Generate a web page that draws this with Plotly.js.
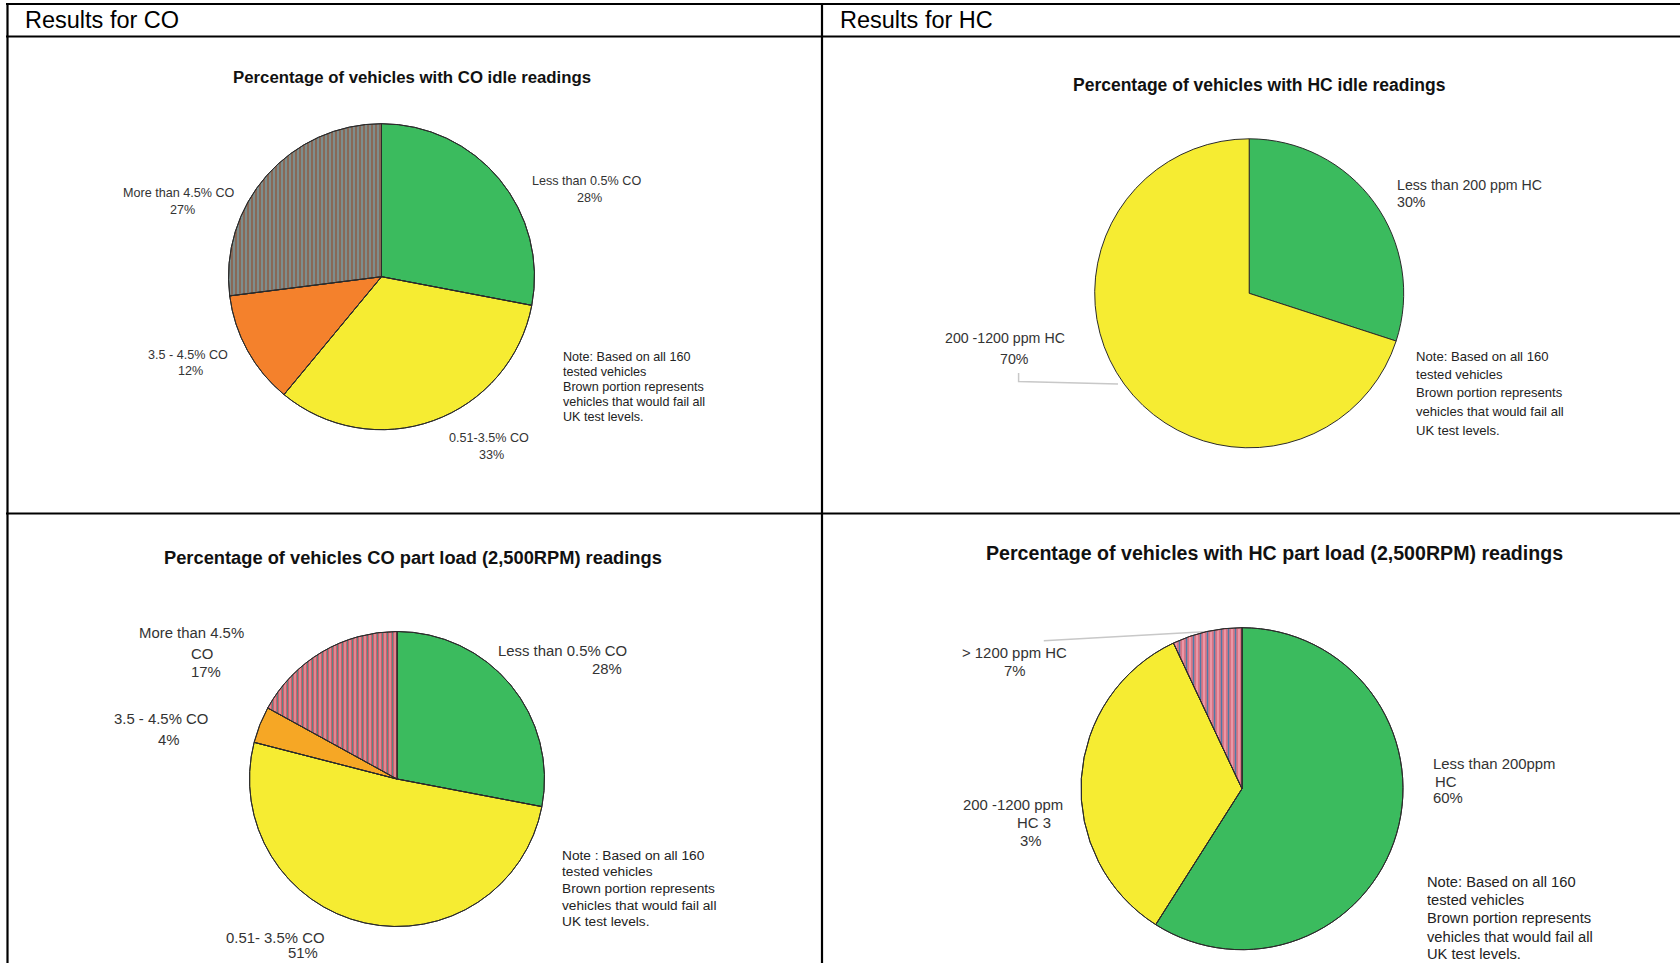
<!DOCTYPE html>
<html>
<head>
<meta charset="utf-8">
<script src="https://cdn.plot.ly/plotly-3.0.1.min.js"></script>
<style>
html,body{margin:0;padding:0;background:#fff;overflow:hidden}
#chart{width:1680px;height:963px}
</style>
</head>
<body>
<div id="chart"></div>
<script>
// ---------------- DATA ----------------
const columnHeaders = ['Results for CO', 'Results for HC'];

const coIdleTitle = 'Percentage of vehicles with CO idle readings';
const coIdleLabels = ['Less than 0.5% CO', '0.51-3.5% CO', '3.5 - 4.5% CO', 'More than 4.5% CO'];
const coIdleValues = [28, 33, 12, 27];

const hcIdleTitle = 'Percentage of vehicles with HC idle readings';
const hcIdleLabels = ['Less than 200 ppm HC', '200 -1200 ppm HC'];
const hcIdleValues = [30, 70];

const coLoadTitle = 'Percentage of vehicles CO part load (2,500RPM) readings';
const coLoadLabels = ['Less than 0.5% CO', '0.51- 3.5% CO', '3.5 - 4.5% CO', 'More than 4.5% CO'];
const coLoadValues = [28, 51, 4, 17];

const hcLoadTitle = 'Percentage of vehicles with HC part load (2,500RPM) readings';
const hcLoadLabels = ['Less than 200ppm HC', '200 -1200 ppm HC 3', '> 1200 ppm HC'];
const hcLoadValues = [59, 34, 7];
const hcLoadValueText = ['60%', '3%', '7%'];

const noteLinesA = ['Note: Based on all 160', 'tested vehicles', 'Brown portion represents', 'vehicles that would fail all', 'UK test levels.'];
const noteLinesB = ['Note : Based on all 160', 'tested vehicles', 'Brown portion represents', 'vehicles that would fail all', 'UK test levels.'];

// ---------------- STYLE / LAYOUT ----------------
const W = 1680, H = 963;
const px = x => x / W;
const py = y => 1 - y / H;
const FONT = 'Liberation Sans, Arial, Helvetica, sans-serif';
const GREEN = '#3bbb5e', YELLOW = '#f6ec32', ORANGE = '#f4812c', AMBER = '#f6a725';
const LABEL_COLOR = '#333333';

const stripeBrown = {bg: '#95705e', fg1: '#7cc0d0', size1: 4, sol1: 0.3, fg2: '#5a4438', size2: 2, sol2: 0.2};
const stripeCO = {bg: '#e48c97', fg1: '#5b8584', size1: 5, sol1: 0.26, fg2: '#c04a54', size2: 2.5, sol2: 0.3};
const stripeHC = {bg: '#ec9aaa', fg1: '#4f7aa6', size1: 7, sol1: 0.26, fg2: '#cc5566', size2: 3.5, sol2: 0.28};

const panels = [
  {labels: coIdleLabels, values: coIdleValues, valueText: coIdleValues.map(v => v + '%'),
   colors: [GREEN, YELLOW, ORANGE, stripeBrown.bg], striped: 3, stripe: stripeBrown,
   cx: 381.5, cy: 276.7, r: 153,
   title: coIdleTitle, titlePos: [412, 77.3], titleSize: 16.8,
   labelSize: 12.6, breaks: [0, 0, 0, 0],
   labelLines: [[[586, 181, 'c'], [589, 198, 'c']],
                [[489, 438, 'c'], [491, 455, 'c']],
                [[188, 355, 'c'], [190, 371, 'c']],
                [[179, 193, 'c'], [182, 210, 'c']]],
   note: noteLinesA, noteX: 561.8, noteY: [356.7, 371.7, 386.7, 401.7, 416.7], noteSize: 12.6},
  {labels: hcIdleLabels, values: hcIdleValues, valueText: hcIdleValues.map(v => v + '%'),
   colors: [GREEN, YELLOW], striped: -1, stripe: null,
   cx: 1249.2, cy: 293.3, r: 154.5,
   title: hcIdleTitle, titlePos: [1259.4, 85], titleSize: 17.5,
   labelSize: 14.2, breaks: [0, 0],
   labelLines: [[[1396, 185, 'l'], [1396, 201.7, 'l']],
                [[1005, 338, 'c'], [1015, 359, 'c']]],
   note: noteLinesA, noteX: 1415, noteY: [356.7, 375, 393, 411.7, 430], noteSize: 13.1},
  {labels: coLoadLabels, values: coLoadValues, valueText: coLoadValues.map(v => v + '%'),
   colors: [GREEN, YELLOW, AMBER, stripeCO.bg], striped: 3, stripe: stripeCO,
   cx: 397, cy: 779, r: 147.5,
   title: coLoadTitle, titlePos: [412.6, 557.7], titleSize: 18.3,
   labelSize: 14.9, breaks: [0, 0, 0, 3],
   labelLines: [[[497, 651, 'l'], [606.5, 669, 'c']],
                [[275.6, 938, 'c'], [303, 952.5, 'c']],
                [[160.5, 719, 'c'], [169, 740, 'c']],
                [[191.5, 633.3, 'c'], [202, 654, 'c'], [206, 672.3, 'c']]],
   note: noteLinesB, noteX: 560.7, noteY: [855.7, 871.7, 888.3, 905, 921.7], noteSize: 13.7},
  {labels: hcLoadLabels, values: hcLoadValues, valueText: hcLoadValueText,
   colors: [GREEN, YELLOW, stripeHC.bg], striped: 2, stripe: stripeHC,
   cx: 1242, cy: 788.7, r: 161,
   title: hcLoadTitle, titlePos: [1274, 553.3], titleSize: 19.6,
   labelSize: 14.9, breaks: [3, 3, 0],
   labelLines: [[[1431.6, 764, 'l'], [1434, 781.7, 'l'], [1431.6, 798.3, 'l']],
                [[1013.4, 805, 'c'], [1034, 823.3, 'c'], [1031, 841, 'c']],
                [[1015, 652.7, 'c'], [1015, 671, 'c']]],
   note: noteLinesA, noteX: 1426, noteY: [881.7, 900, 918.3, 936.7, 953.5], noteSize: 14.7}
];

const headerPos = [[23.5, 20], [839, 20]];
const headerSize = 23.5;

// table rules: [x0, y0, x1, y1]
const tableRules = [
  [6, 4, 1680, 4], [6, 36.5, 1680, 36.5], [6, 513.5, 1680, 513.5],
  [7.5, 3, 7.5, 963], [822, 3, 822, 963]
];
// leader lines (polyline points)
const leaders = [
  [[1018.6, 373], [1018.6, 381.5], [1118, 384]],
  [[1043.8, 640.7], [1204, 631.7]]
];

// ---------------- BUILD ----------------
const traces = [], annotations = [], shapes = [];

function addText(text, x, y, size, anchor, color, weight) {
  annotations.push({
    xref: 'paper', yref: 'paper', x: px(x), y: py(y),
    xanchor: anchor === 'l' ? 'left' : 'center', yanchor: 'middle',
    showarrow: false, text: text, borderpad: 0,
    font: {family: FONT, size: size, color: color, weight: weight || 'normal'}
  });
}
function wrapLabel(label, n) {
  if (!n) return [label];
  const w = label.split(' ');
  return [w.slice(0, n).join(' '), w.slice(n).join(' ')];
}

panels.forEach(p => {
  const dom = {x: [px(p.cx - p.r), px(p.cx + p.r)], y: [py(p.cy + p.r), py(p.cy - p.r)]};
  const base = {
    type: 'pie', labels: p.labels, values: p.values, sort: false, direction: 'clockwise', rotation: 0,
    textinfo: 'none', hoverinfo: 'label+percent', showlegend: false, domain: dom,
    marker: {colors: p.colors, line: {color: '#2b2b2b', width: 1}}
  };
  if (p.stripe) {
    base.marker.pattern = {
      shape: p.colors.map((c, i) => i === p.striped ? '|' : ''),
      fgcolor: p.colors.map((c, i) => i === p.striped ? p.stripe.fg1 : c),
      bgcolor: p.colors.map((c, i) => i === p.striped ? p.stripe.bg : c),
      size: p.stripe.size1, solidity: p.stripe.sol1, fillmode: 'replace'
    };
  }
  traces.push(base);
  if (p.stripe && p.stripe.fg2) {
    traces.push({
      type: 'pie', labels: p.labels, values: p.values, sort: false, direction: 'clockwise', rotation: 0,
      textinfo: 'none', hoverinfo: 'skip', showlegend: false, domain: dom,
      marker: {
        colors: p.colors.map(() => 'rgba(0,0,0,0)'), line: {color: '#2b2b2b', width: 1},
        pattern: {
          shape: p.colors.map((c, i) => i === p.striped ? '|' : ''),
          fgcolor: p.colors.map((c, i) => i === p.striped ? p.stripe.fg2 : 'rgba(0,0,0,0)'),
          bgcolor: p.colors.map(() => 'rgba(0,0,0,0)'),
          size: p.stripe.size2, solidity: p.stripe.sol2, fillmode: 'replace'
        }
      }
    });
  }
  addText(p.title, p.titlePos[0], p.titlePos[1], p.titleSize, 'c', '#111111', 'bold');
  p.labels.forEach((lab, i) => {
    const lines = wrapLabel(lab, p.breaks[i]).concat([p.valueText[i]]);
    lines.forEach((t, k) => {
      const pos = p.labelLines[i][k];
      addText(t, pos[0], pos[1], p.labelSize, pos[2], LABEL_COLOR);
    });
  });
  p.note.forEach((t, k) => addText(t, p.noteX, p.noteY[k], p.noteSize, 'l', '#222222'));
});

columnHeaders.forEach((h, i) => addText(h, headerPos[i][0], headerPos[i][1], headerSize, 'l', '#000000'));

tableRules.forEach(r => shapes.push({
  type: 'line', xref: 'paper', yref: 'paper', x0: px(r[0]), y0: py(r[1]), x1: px(r[2]), y1: py(r[3]),
  line: {color: '#000000', width: 2.2}
}));
leaders.forEach(pts => {
  const path = pts.map((q, k) => (k ? 'L' : 'M') + px(q[0]) + ',' + py(q[1])).join(' ');
  shapes.push({type: 'path', xref: 'paper', yref: 'paper', path: path, layer: 'below',
    line: {color: '#c8c8c8', width: 1.5}});
});

Plotly.newPlot('chart', traces, {
  width: W, height: H, margin: {l: 0, r: 0, t: 0, b: 0},
  paper_bgcolor: '#ffffff', plot_bgcolor: '#ffffff',
  showlegend: false, annotations: annotations, shapes: shapes,
  font: {family: FONT}
}, {displayModeBar: false, staticPlot: false});
</script>
</body>
</html>
